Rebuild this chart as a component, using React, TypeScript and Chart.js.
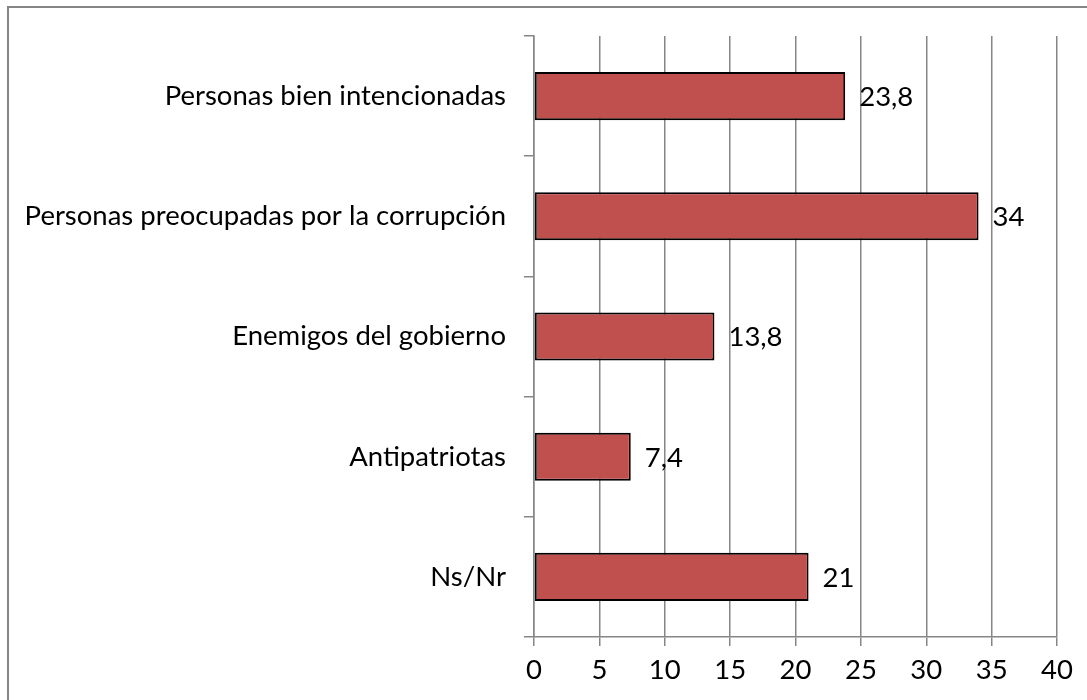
import React, { useEffect, useRef } from "react";
import { Chart, registerables } from "chart.js";

Chart.register(...registerables);

const categories = [
  "Personas bien intencionadas",
  "Personas preocupadas por la corrupción",
  "Enemigos del gobierno",
  "Antipatriotas",
  "Ns/Nr",
];
const values = [23.8, 34, 13.8, 7.4, 21];
const xTicks = [0, 5, 10, 15, 20, 25, 30, 35, 40];

const FONT = "Lato";
const FSIZE = 27.5;
const GRID = "#868686";

const framePlugin = {
  id: "frame",
  afterDraw(chart: any) {
    const ctx = chart.ctx;
    ctx.save();
    ctx.strokeStyle = GRID;
    ctx.lineWidth = 2;
    ctx.strokeRect(8, 7, 1200, 1200);
    ctx.restore();
  },
};

const valueLabels = {
  id: "valueLabels",
  afterDatasetsDraw(chart: any) {
    const ctx = chart.ctx;
    const meta = chart.getDatasetMeta(0);
    ctx.save();
    ctx.fillStyle = "#000";
    ctx.font = `${FSIZE}px ${FONT}`;
    ctx.textAlign = "left";
    ctx.textBaseline = "middle";
    meta.data.forEach((bar: any, i: number) => {
      const v = values[i];
      const txt = String(v).replace(".", ",");
      ctx.fillText(txt, bar.x + 14, bar.y + 1);
    });
    ctx.restore();
  },
};

export default function App() {
  const ref = useRef<HTMLCanvasElement | null>(null);
  useEffect(() => {
    if (!ref.current) return;
    const chart = new Chart(ref.current, {
      type: "bar",
      data: {
        labels: categories,
        datasets: [
          {
            data: values,
            backgroundColor: "#C0504D",
            borderColor: "#000000",
            borderWidth: 2,
            borderSkipped: false,
            categoryPercentage: 0.4,
            barPercentage: 1,
          },
        ],
      },
      options: {
        indexAxis: "y",
        animation: false,
        responsive: false,
        maintainAspectRatio: false,
        layout: { padding: { top: 36, right: 30, left: 0, bottom: 0 } },
        plugins: { legend: { display: false }, tooltip: { enabled: false } },
        scales: {
          x: {
            min: 0,
            max: 40,
            afterBuildTicks(scale: any) {
              scale.ticks = xTicks.map((v) => ({ value: v }));
            },
            afterFit(scale: any) {
              scale.height = 63;
            },
            grid: {
              color: GRID,
              lineWidth: 1.5,
              drawTicks: true,
              tickLength: 9,
            },
            border: { display: true, color: GRID, width: 1.5 },
            ticks: {
              color: "#000",
              font: { family: FONT, size: FSIZE },
              padding: 8,
            },
          },
          y: {
            afterFit(scale: any) {
              scale.width = 534;
            },
            grid: {
              drawOnChartArea: false,
              drawTicks: true,
              tickLength: 10,
              color: GRID,
              lineWidth: 1.5,
              offset: true,
            },
            border: { display: true, color: GRID, width: 1.5 },
            ticks: {
              color: "#000",
              font: { family: FONT, size: FSIZE },
              padding: 18,
            },
          },
        },
      },
      plugins: [framePlugin, valueLabels],
    });
    return () => chart.destroy();
  }, []);
  return (
    <canvas
      ref={ref}
      width={1087}
      height={700}
      style={{ position: "absolute", left: 0, top: 0, width: 1087, height: 700 }}
    />
  );
}
